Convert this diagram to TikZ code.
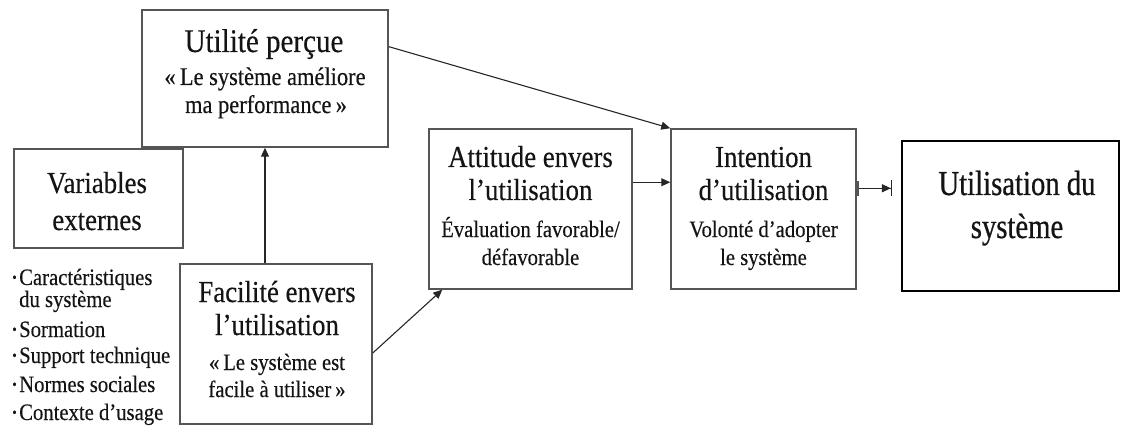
\documentclass[tikz,border=0pt]{standalone}
\usepackage{fontspec}
\usepackage{graphicx}
\setmainfont{Liberation Serif}[FakeStretch=0.88,FakeBold=0.35]
\newfontfamily\narrowtimes{Liberation Serif}[FakeStretch=0.82,FakeBold=0.6]
\usetikzlibrary{arrows.meta,calc}

\definecolor{ink}{HTML}{141414}
\definecolor{boxline}{HTML}{555555}
\definecolor{wire}{HTML}{262626}

\newcommand\titlesize{\fontsize{30.5}{33}\selectfont}
\newcommand\bigtitlesize{\fontsize{33}{36}\selectfont}
\newcommand\subsize{\fontsize{23.5}{28}\selectfont}
\newcommand\bigsubsize{\fontsize{25.5}{28}\selectfont}
\newcommand\usagesize{\narrowtimes\fontsize{35}{42}\selectfont}
\newcommand\smallbullet{\raisebox{0.28ex}{\scalebox{0.6}{\textbullet}}}

\tikzset{
  box/.style={draw=boxline, line width=1.5pt, inner sep=0pt},
  mainbox/.style={draw=black, line width=2pt, inner sep=0pt},
  ttl/.style={anchor=base, inner sep=0pt, font=\titlesize, text=ink},
  sub/.style={anchor=base, inner sep=0pt, font=\subsize, text=ink},
  usg/.style={anchor=base, inner sep=0pt, font=\usagesize, text=ink},
  lst/.style={anchor=base west, inner sep=0pt, font=\subsize, text=ink},
  conn/.style={draw=wire, line width=1.1pt, -{Triangle[length=9pt,width=8pt]}},
}

\begin{document}
\begin{tikzpicture}[x=1pt,y=-1pt]
\useasboundingbox (0,0) rectangle (1125,433);

% boxes
\node[box, minimum width=246pt, minimum height=137pt] (util)  at (265,78.5)   {};
\node[box, minimum width=169pt, minimum height=99pt]  (varext) at (98.5,198.5) {};
\node[box, minimum width=192pt, minimum height=160pt] (facil) at (276,344)    {};
\node[box, minimum width=203pt, minimum height=160pt] (attit) at (530.5,209)  {};
\node[box, minimum width=185pt, minimum height=160pt] (inten) at (763.5,209)  {};
\node[mainbox, minimum width=217pt, minimum height=150pt] (usage) at (1010.5,216) {};

% perceived usefulness
\node[ttl, font=\bigtitlesize] (utilA) at (264,52)  {Utilité perçue};
\node[sub, font=\bigsubsize]   (utilB) at (265,85)  {«\,Le système améliore};
\node[sub, font=\bigsubsize]   (utilC) at (266,113) {ma performance\,»};

% external variables
\node[ttl] (varA) at (97,193) {Variables};
\node[ttl] (varB) at (97,230) {externes};

% ease of use
\node[ttl] (facA) at (277,302) {Facilité envers};
\node[ttl] (facB) at (277,335) {l’utilisation};
\node[sub] (facC) at (277,370) {«\,Le système est};
\node[sub] (facD) at (277,397) {facile à utiliser\,»};

% attitude
\node[ttl] (attA) at (530.5,167) {Attitude envers};
\node[ttl] (attB) at (530.5,200) {l’utilisation};
\node[sub] (attC) at (530.5,237) {Évaluation favorable/};
\node[sub] (attD) at (530.5,265) {défavorable};

% intention
\node[ttl] (intA) at (763.5,167) {Intention};
\node[ttl] (intB) at (763.5,200) {d’utilisation};
\node[sub] (intC) at (763.5,237) {Volonté d’adopter};
\node[sub] (intD) at (763.5,265) {le système};

% system use
\node[usg] (useA) at (1017,195) {Utilisation du};
\node[usg] (useB) at (1017,238) {système};

% list of external variables
\node[lst] (li1) at (19,285) {\llap{\smallbullet\hspace{2.5pt}}Caractéristiques};
\node[lst] (li2) at (19,307) {du système};
\node[lst] (li3) at (19,337) {\llap{\smallbullet\hspace{2.5pt}}Sormation};
\node[lst] (li4) at (19,363) {\llap{\smallbullet\hspace{2.5pt}}Support technique};
\node[lst] (li5) at (19,392) {\llap{\smallbullet\hspace{2.5pt}}Normes sociales};
\node[lst] (li6) at (19,420) {\llap{\smallbullet\hspace{2.5pt}}Contexte d’usage};

% connectors
\draw[conn] (facil.north -| util.south) -- (util.south);
\draw[conn] ($(util.north east)!0.27!(util.south east)$) -- (inten.north west);
\draw[conn] ($(facil.east)+(0,9)$) -- ($(attit.south west)+(14,0)$);
\coordinate (attOut) at ($(attit.north east)+(0,54)$);
\draw[conn] (attOut) -- (attOut -| inten.west);
\coordinate (intOut) at ($(inten.north east)+(0,60)$);
\coordinate (useIn) at ($(intOut -| usage.west)+(-9,0)$);
\draw[draw=wire, line width=1.1pt,
      {Bar[width=15pt,line width=2.5pt,sep=0pt,color=boxline]}-{Triangle[length=9pt,width=8pt,sep=0pt]Bar[width=16pt]}]
  (intOut) -- (useIn);
\end{tikzpicture}
\end{document}
